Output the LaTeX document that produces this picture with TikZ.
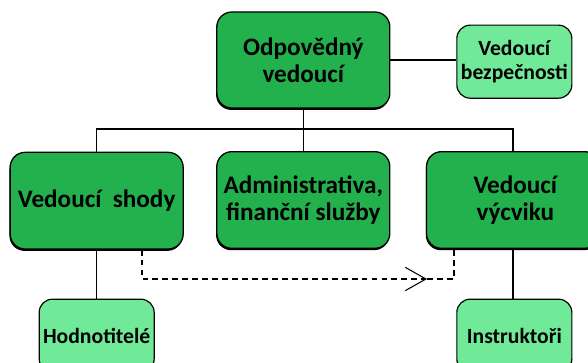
\documentclass[tikz,border=0pt]{standalone}
\usepackage{fontspec}
\setmainfont{Carlito}
\usetikzlibrary{positioning,arrows.meta,shadows,calc}
\definecolor{orgdark}{RGB}{34,177,76}
\definecolor{orglight}{RGB}{112,234,152}
\tikzset{
  orgmain/.style={draw=black, line width=1.1pt, fill=orgdark, rounded corners=0.45cm,
                  align=center, font=\fontsize{21.5}{23}\selectfont\bfseries,
                  minimum width=5.19cm, minimum height=2.9cm, inner sep=1pt,
                  drop shadow={shadow xshift=-0.6pt, shadow yshift=-1.6pt, fill=black, opacity=1}},
  orgsub/.style={draw=black, line width=1pt, fill=orglight, rounded corners=0.4cm,
                 align=center, font=\fontsize{18.5}{21}\selectfont\bfseries,
                 minimum width=3.45cm, minimum height=2.19cm, inner sep=1pt},
  orglink/.style={draw=black, line width=0.9pt},
  orgdash/.style={draw=black, line width=0.9pt, dash pattern=on 5pt off 3.5pt},
}
\newcommand{\ColA}{2.9}
\newcommand{\ColB}{9.1}
\newcommand{\ColC}{15.39}
\begin{document}
\begin{tikzpicture}
    \useasboundingbox (0,0) rectangle (17.64,-10.89);

      \node[orgmain, minimum height=2.88cm] (odpov) at (\ColB,-1.8) {Odpovědný\\vedoucí};
      \node[orgsub] (bezp) at (15.43,-1.85) {Vedoucí\\bezpečnosti};

      \node[orgmain] (shody) at (\ColA,-6.02) {Vedoucí~~shody};
      \node[orgmain] (admin) at (\ColB,-6.0) {Administrativa,\\finanční služby};
      \node[orgmain] (vycvik) at (\ColC,-6.0) {\hspace*{4pt}Vedoucí\\\hspace*{4pt}výcviku};

      \node[orgsub] (hodnot) at (\ColA,-10.07) {Hodnotitelé};
      \node[orgsub] (instr) at (15.43,-10.07) {Instruktoři};

      % vedeni
      \coordinate (bus) at (\ColB,-3.87);
      \draw[orglink] (odpov.east) -- (odpov.east -| bezp.west);
      \draw[orglink] (odpov.south) -- (admin.north);
      \draw[orglink] (shody.north) |- (bus) -| (vycvik.north);
      \draw[orglink] (shody.south) -- (hodnot.north);
      \draw[orglink] (vycvik.south) -- (vycvik.south |- instr.north);

      % prenos
      \coordinate (dturn) at (4.26,-8.37);
      \coordinate (dtip) at (12.81,-8.37);
      \coordinate (dcorner) at (13.62,-8.37);
      \draw[orgdash,-{Straight Barb[length=0.62cm,width=0.7cm,line width=0.9pt]}]
        (shody.south -| dturn) -- (dturn) -- (dtip);
      \draw[orgdash] (dtip) -- (dcorner) -- (vycvik.south -| dcorner);

    \end{tikzpicture}
\end{document}
